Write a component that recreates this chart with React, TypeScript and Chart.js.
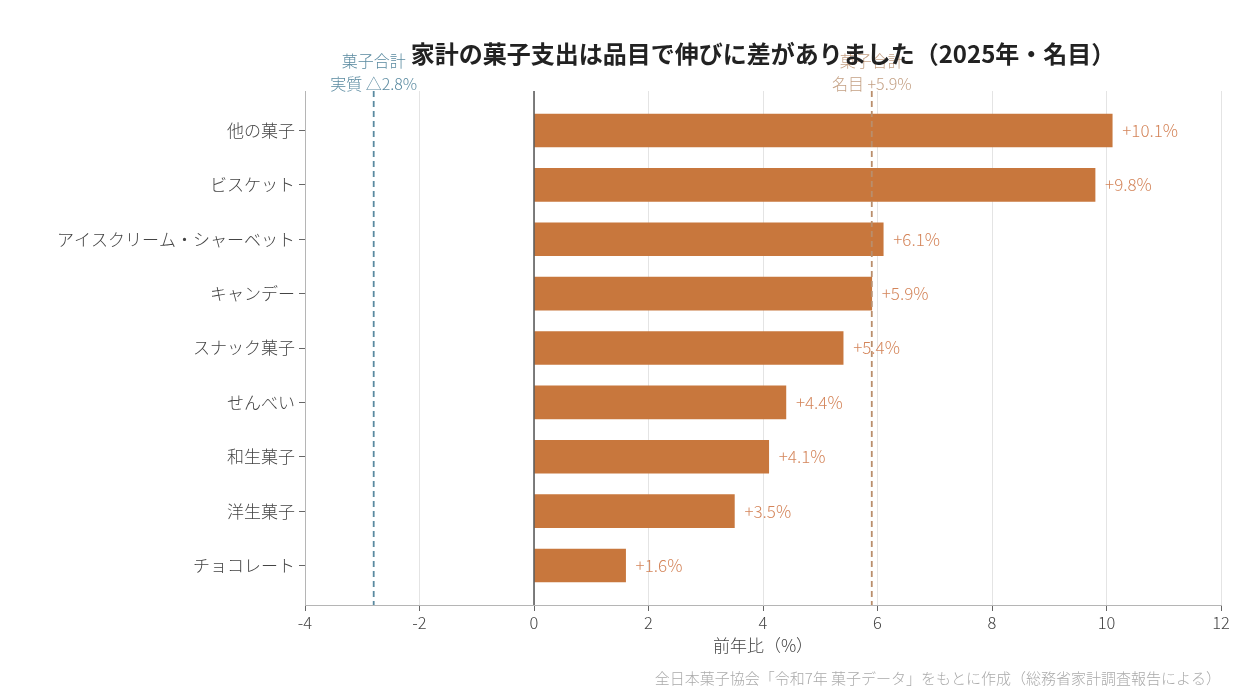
import { useEffect, useRef } from "react"
import { Chart, registerables } from "chart.js"

Chart.register(...registerables)

const categories = [
  "他の菓子",
  "ビスケット",
  "アイスクリーム・シャーベット",
  "キャンデー",
  "スナック菓子",
  "せんべい",
  "和生菓子",
  "洋生菓子",
  "チョコレート",
]
const growth = [10.1, 9.8, 6.1, 5.9, 5.4, 4.4, 4.1, 3.5, 1.6]
const realTotal = -2.8
const nominalTotal = 5.9
const xTicks = [-4, 12]

const FONT = '"Noto Sans CJK JP", "Noto Sans", sans-serif'
const BAR = "#c8773d"
const LABEL = "#d4855a"
const BLUE = "#5a8aa0"
const TAN = "#b98e6c"

const textPlugin = {
  id: "texts",
  afterDatasetsDraw(chart: any) {
    const { ctx, chartArea, scales } = chart
    const x = scales.x
    ctx.save()
    // zero line
    ctx.strokeStyle = "#555"
    ctx.lineWidth = 1.5
    ctx.beginPath()
    ctx.moveTo(x.getPixelForValue(0), chartArea.top)
    ctx.lineTo(x.getPixelForValue(0), chartArea.bottom)
    ctx.stroke()
    // reference lines
    const refs = [
      { v: realTotal, c: BLUE },
      { v: nominalTotal, c: TAN },
    ]
    ctx.setLineDash([6, 4])
    ctx.lineWidth = 1.8
    refs.forEach((r) => {
      const px = x.getPixelForValue(r.v)
      ctx.strokeStyle = r.c
      ctx.beginPath()
      ctx.moveTo(px, chartArea.top)
      ctx.lineTo(px, chartArea.bottom)
      ctx.stroke()
    })
    ctx.setLineDash([])
    // value labels
    const meta = chart.getDatasetMeta(0)
    ctx.font = `300 17px ${FONT}`
    ctx.fillStyle = LABEL
    ctx.textAlign = "left"
    ctx.textBaseline = "middle"
    meta.data.forEach((bar: any, i: number) => {
      ctx.fillText(`+${growth[i].toFixed(1)}%`, bar.x + 10, bar.y)
    })
    ctx.restore()
  },
  afterDraw(chart: any) {
    const { ctx, chartArea, scales } = chart
    const x = scales.x
    const mid = (chartArea.left + chartArea.right) / 2
    ctx.save()
    ctx.textAlign = "center"
    ctx.textBaseline = "middle"
    ctx.font = `300 16px ${FONT}`
    const bx = x.getPixelForValue(realTotal)
    ctx.fillStyle = BLUE
    ctx.fillText("菓子合計", bx, 61)
    ctx.fillText("実質 △2.8%", bx, 84)
    const tx = x.getPixelForValue(nominalTotal)
    ctx.fillStyle = "rgba(185, 142, 108, 0.85)"
    ctx.fillText("菓子合計", tx, 61)
    ctx.fillText("名目 +5.9%", tx, 84)
    // title
    ctx.fillStyle = "#222"
    ctx.font = `bold 24px ${FONT}`
    ctx.fillText("家計の菓子支出は品目で伸びに差がありました（2025年・名目）", mid, 54)
    // axis title
    ctx.fillStyle = "#444"
    ctx.font = `300 17px ${FONT}`
    ctx.fillText("前年比（%）", mid, 646)
    // source
    ctx.fillStyle = "#aaa"
    ctx.font = `300 15px ${FONT}`
    ctx.textAlign = "right"
    ctx.fillText("全日本菓子協会「令和7年 菓子データ」をもとに作成（総務省家計調査報告による）", chartArea.right, 678)
    ctx.restore()
  },
}

export default function App() {
  const chartRef = useRef<HTMLCanvasElement>(null)
  const chartInstance = useRef<Chart | null>(null)

  useEffect(() => {
    if (!chartRef.current) return
    if (chartInstance.current) chartInstance.current.destroy()
    const ctx = chartRef.current.getContext("2d")
    if (!ctx) return

    const config: any = {
      type: "bar",
      data: {
        datasets: [
          {
            data: growth.map((v, i) => ({ x: v, y: i })),
            backgroundColor: BAR,
            barThickness: 33,
          },
        ],
      },
      options: {
        indexAxis: "y",
        responsive: true,
        maintainAspectRatio: false,
        animation: false,
        layout: { padding: { top: 91, right: 19, bottom: 0, left: 0 } },
        plugins: {
          legend: { display: false },
          tooltip: { enabled: false },
        },
        scales: {
          x: {
            type: "linear",
            min: xTicks[0],
            max: xTicks[1],
            afterFit: (s: any) => {
              s.height = 95
            },
            ticks: {
              stepSize: 2,
              color: "#444",
              font: { family: FONT, size: 16.5, weight: "300" },
              padding: 2,
              callback: (v: any) => String(v),
            },
            grid: { color: "#e4e4e4", tickColor: "#666", tickLength: 6 },
            border: { color: "#b5b5b5" },
          },
          y: {
            type: "linear",
            reverse: true,
            offset: false,
            min: -0.727,
            max: categories.length - 1 + 0.727,
            afterFit: (s: any) => {
              s.width = 305
            },
            ticks: {
              stepSize: 1,
              includeBounds: false,
              autoSkip: false,
              color: "#444",
              font: { family: FONT, size: 17, weight: "300" },
              padding: 4,
              callback: (v: any) => (Number.isInteger(v) ? categories[v] ?? "" : ""),
            },
            grid: { offset: false, drawOnChartArea: false, tickColor: "#666", tickLength: 6 },
            border: { color: "#b5b5b5" },
          },
        },
      },
      plugins: [textPlugin],
    }

    chartInstance.current = new Chart(ctx, config)
    return () => {
      if (chartInstance.current) chartInstance.current.destroy()
    }
  }, [])

  return (
    <div style={{ position: "absolute", left: 0, top: 0, width: 1240, height: 700, background: "#fff" }}>
      <canvas ref={chartRef} />
    </div>
  )
}
